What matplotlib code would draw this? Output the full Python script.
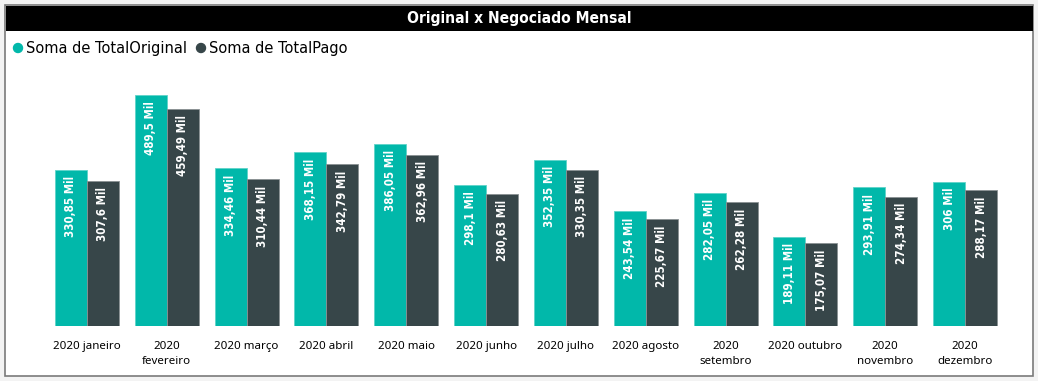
import matplotlib.pyplot as plt
from matplotlib.patches import Rectangle, Ellipse
import numpy as np

meses = ["2020 janeiro", "2020\nfevereiro", "2020 março", "2020 abril", "2020 maio",
         "2020 junho", "2020 julho", "2020 agosto", "2020\nsetembro", "2020 outubro",
         "2020\nnovembro", "2020\ndezembro"]
total_original = [330.85, 489.5, 334.46, 368.15, 386.05, 298.1, 352.35, 243.54, 282.05, 189.11, 293.91, 306]
total_pago = [307.6, 459.49, 310.44, 342.79, 362.96, 280.63, 330.35, 225.67, 262.28, 175.07, 274.34, 288.17]
rotulos_original = ["330,85 Mil", "489,5 Mil", "334,46 Mil", "368,15 Mil", "386,05 Mil", "298,1 Mil",
                    "352,35 Mil", "243,54 Mil", "282,05 Mil", "189,11 Mil", "293,91 Mil", "306 Mil"]
rotulos_pago = ["307,6 Mil", "459,49 Mil", "310,44 Mil", "342,79 Mil", "362,96 Mil", "280,63 Mil",
                "330,35 Mil", "225,67 Mil", "262,28 Mil", "175,07 Mil", "274,34 Mil", "288,17 Mil"]

W, H = 1038, 381
TEAL = "#01B8AA"
DARK = "#374649"

fig = plt.figure(figsize=(W / 100, H / 100), dpi=100, facecolor="#f3f3f3")

def fx(x):
    return x / W

def fy(y):
    return 1 - y / H

# card background, border and title bar
fig.patches.append(Rectangle((fx(5), fy(376)), fx(1028), 371 / H, transform=fig.transFigure,
                             facecolor="white", edgecolor="#7a7a7a", linewidth=1.2, zorder=-2))
fig.patches.append(Rectangle((fx(6), fy(31)), fx(1027), 25 / H, transform=fig.transFigure,
                             facecolor="black", edgecolor="none", zorder=-1))
fig.text(fx(519), fy(18), "Original x Negociado Mensal", color="white", fontsize=11.2,
         fontweight="bold", ha="center", va="center", family="DejaVu Sans", fontstretch="condensed")

# legend
fig.patches.append(Ellipse((fx(18), fy(48)), 9 / W, 9 / H, transform=fig.transFigure, color=TEAL))
fig.text(fx(26), fy(48), "Soma de TotalOriginal", fontsize=10.5, va="center", ha="left")
fig.patches.append(Ellipse((fx(201), fy(48)), 9 / W, 9 / H, transform=fig.transFigure, color=DARK))
fig.text(fx(209), fy(48), "Soma de TotalPago", fontsize=10.5, va="center", ha="left")

# axes: x centers at 87 + 79.8*i, baseline at y=326
left, right = 47, 1005
top, bottom = 70, 326
ax = fig.add_axes([fx(left), fy(bottom), fx(right - left), (bottom - top) / H])
ax.set_facecolor("none")

x = np.arange(len(meses))
w = 0.4
b1 = ax.bar(x - w / 2, total_original, w, color=TEAL, edgecolor="#5fd3c9", linewidth=0.6)
b2 = ax.bar(x + w / 2, total_pago, w, color=DARK, edgecolor="#8a9193", linewidth=0.6)

ymax = 256 / 0.472
ax.set_ylim(0, ymax)
ax.set_xlim(-0.5, len(meses) - 0.5)

for bars, rot in ((b1, rotulos_original), (b2, rotulos_pago)):
    for bar, t in zip(bars, rot):
        ax.annotate(t, (bar.get_x() + bar.get_width() / 2, bar.get_height()),
                    xytext=(0, -4.5), textcoords="offset points", rotation=90,
                    ha="center", va="top", color="white", fontsize=8.3, fontweight="bold",
                    family="DejaVu Sans", fontstretch="condensed")

ax.set_xticks(x)
ax.set_xticklabels(meses, fontsize=8.3, linespacing=1.45, family="Noto Sans")
ax.tick_params(axis="x", length=0, pad=11)
ax.set_yticks([])
for s in ax.spines.values():
    s.set_visible(False)

plt.savefig("out.png", dpi=100, facecolor=fig.get_facecolor())
